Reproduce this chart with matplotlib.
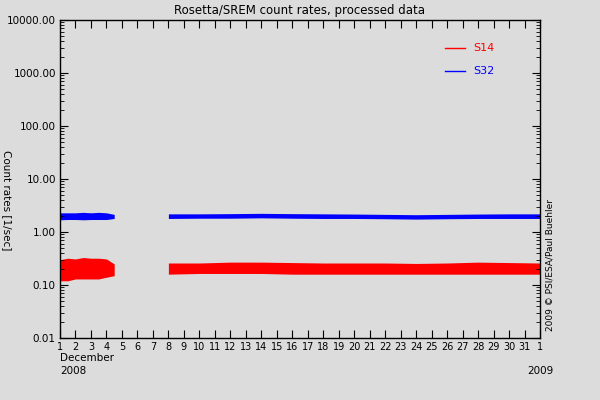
import matplotlib
matplotlib.use("Agg")
import matplotlib.pyplot as plt
import numpy as np

# day-of-December positions (32 = 1 Jan 2009)
seg1_days = [1.0, 1.5, 2.0, 2.5, 3.0, 3.5, 4.0, 4.5]
seg2_days = [8.0, 10, 12, 14, 16, 18, 20, 22, 24, 26, 28, 30, 32]

s32_seg1_lo = [1.70, 1.72, 1.72, 1.70, 1.72, 1.72, 1.72, 1.80]
s32_seg1_hi = [2.30, 2.30, 2.30, 2.35, 2.30, 2.35, 2.30, 2.15]
s32_seg2_lo = [1.80, 1.82, 1.82, 1.85, 1.82, 1.80, 1.80, 1.78, 1.75, 1.78, 1.80, 1.80, 1.80]
s32_seg2_hi = [2.20, 2.20, 2.22, 2.25, 2.22, 2.20, 2.18, 2.15, 2.12, 2.15, 2.18, 2.20, 2.20]

s14_seg1_lo = [0.12, 0.12, 0.13, 0.13, 0.13, 0.13, 0.14, 0.15]
s14_seg1_hi = [0.30, 0.32, 0.31, 0.33, 0.32, 0.32, 0.31, 0.25]
s14_seg2_lo = [0.16, 0.165, 0.165, 0.165, 0.16, 0.16, 0.16, 0.16, 0.16, 0.16, 0.16, 0.16, 0.16]
s14_seg2_hi = [0.26, 0.26, 0.27, 0.27, 0.265, 0.26, 0.26, 0.26, 0.255, 0.26, 0.27, 0.265, 0.26]

xticks = list(range(1, 33))
xticklabels = [str(d) for d in range(1, 32)] + ["1"]
yticks = [0.01, 0.1, 1, 10, 100, 1000, 10000]
yticklabels = ["0.01", "0.10", "1.00", "10.00", "100.00", "1000.00", "10000.00"]

bg = "#dcdcdc"
fig = plt.figure(figsize=(6, 4), dpi=100, facecolor=bg)
ax = fig.add_axes([60/600, 62/400, 480/600, 318/400], facecolor=bg)

for d, lo, hi in [(seg1_days, s32_seg1_lo, s32_seg1_hi), (seg2_days, s32_seg2_lo, s32_seg2_hi)]:
    ax.fill_between(d, lo, hi, color="blue", lw=0)
for d, lo, hi in [(seg1_days, s14_seg1_lo, s14_seg1_hi), (seg2_days, s14_seg2_lo, s14_seg2_hi)]:
    ax.fill_between(d, lo, hi, color="red", lw=0)

ax.set_yscale("log")
ax.set_xlim(1, 32)
ax.set_ylim(0.01, 10000)
ax.set_yticks(yticks)
ax.set_yticklabels(yticklabels, fontsize=7.5)
ax.set_xticks(xticks)
ax.set_xticklabels(xticklabels, fontsize=7)
ax.tick_params(which="both", direction="in", top=True, right=True, pad=3)
ax.tick_params(which="major", length=6)
ax.tick_params(which="minor", length=3)
for s in ax.spines.values():
    s.set_linewidth(1)
ax.set_title("Rosetta/SREM count rates, processed data", fontsize=8.5, pad=4)
fig.text(60/600, 42/400, "December", fontsize=7.5, va="center")
fig.text(60/600, 29/400, "2008", fontsize=7.5, va="center")
fig.text(540/600, 29/400, "2009", fontsize=7.5, va="center", ha="center")
fig.text(7/600, 200/400, "Count rates [1/sec]", rotation=270, fontsize=7.5, va="center", ha="center")
fig.text(550/600, 135/400, "2009 © PSI/ESA/Paul Buehler", rotation=90, fontsize=6.5, va="center", ha="center")

fig.lines.append(plt.Line2D([445/600, 465/600], [352/400, 352/400], color="red", lw=1, transform=fig.transFigure))
fig.lines.append(plt.Line2D([445/600, 465/600], [329/400, 329/400], color="blue", lw=1, transform=fig.transFigure))
fig.text(473/600, 352/400, "S14", color="red", fontsize=8, va="center")
fig.text(473/600, 329/400, "S32", color="blue", fontsize=8, va="center")

fig.savefig("out.png", dpi=100, facecolor=bg)
